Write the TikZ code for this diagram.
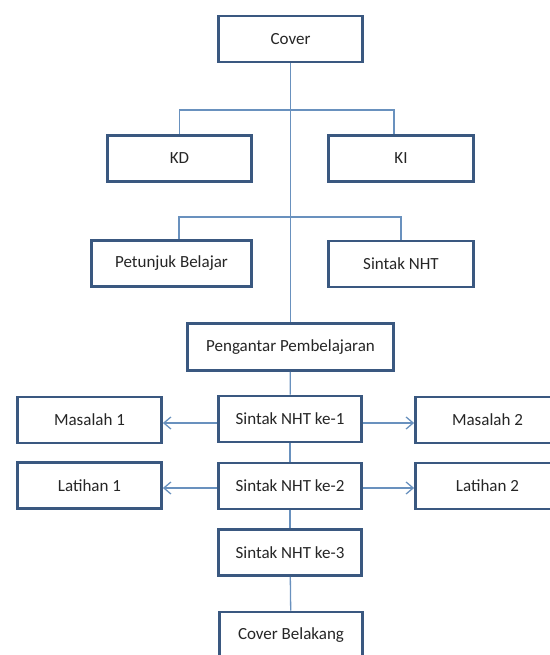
\documentclass[tikz,border=0pt]{standalone}
\usepackage{fontspec}
\setmainfont{Carlito}
\usetikzlibrary{arrows.meta}
\definecolor{boxblue}{RGB}{58,88,128}
\definecolor{linkblue}{RGB}{105,145,190}
\tikzset{
	bagian/.style={draw=boxblue, line width=2.8pt, fill=white, minimum width=#1, minimum height=46pt, inner sep=0pt, text=black!85, font=\fontsize{17}{20}\selectfont},
	bagian/.default=144pt,
	garis/.style={draw=linkblue, line width=1.3pt},
	panah/.style={garis, -{Straight Barb[length=7pt,width=12pt,line width=1.3pt]}}
}

\begin{document}
\begin{tikzpicture}[x=1pt, y=-1pt]
			%%%%% START %%%%%
			
			\useasboundingbox (0, 0) rectangle (549, 655);
			
			\node[bagian] (cover) at (290.5, 39) {Cover};
			
			\node[bagian] (kd) at (179.5, 158.5) {KD};
			\node[bagian=145pt] (ki) at (401, 158.5) {KI};
			
			\node[bagian=160pt] (petunjuk) at (171.5, 263.5) {Petunjuk Belajar};
			\node[bagian=145pt] (sintak) at (401, 264) {Sintak NHT};
			
			\node[bagian=206pt, minimum height=47pt] (pengantar) at (290.5, 347) {Pengantar Pembelajaran};
			
			\node[bagian=143pt] (ke1) at (290, 419) {Sintak NHT ke-1};
			\node[bagian] (masalah1) at (89.5, 420) {Masalah 1};
			\node[bagian] (masalah2) at (487.5, 420) {Masalah 2};
			
			\node[bagian=143pt] (ke2) at (290, 486) {Sintak NHT ke-2};
			\node[bagian] (latihan1) at (89.5, 485.5) {Latihan 1};
			\node[bagian] (latihan2) at (487.5, 486) {Latihan 2};
			
			\node[bagian=143pt] (ke3) at (290, 552.5) {Sintak NHT ke-3};
			\node[bagian=143pt] (belakang) at (291, 635) {Cover Belakang};
			
			% percabangan
			\coordinate (cabang1) at (290.5, 110);
			\coordinate (cabang2) at (290.5, 217);
			
			\draw[garis] (cover) -- (pengantar);
			\draw[garis] (kd.north) |- (cabang1) -| ([xshift=-7pt]ki.north);
			\draw[garis] ([xshift=7.5pt]petunjuk.north) |- (cabang2) -| (sintak.north);
			
			\draw[garis] (pengantar) -- (ke1);
			\draw[garis] (ke1) -- (ke2);
			\draw[garis] (ke2) -- (ke3);
			\draw[garis] (ke3) -- (belakang);
			
			% panah ke samping
			\draw[panah] ([yshift=-4pt]ke1.west) -- ([yshift=-4pt]ke1.west -| masalah1.east);
			\draw[panah] ([yshift=-4pt]ke1.east) -- ([yshift=-4pt]ke1.east -| masalah2.west);
			\draw[panah] ([yshift=-2pt]ke2.west) -- ([yshift=-2pt]ke2.west -| latihan1.east);
			\draw[panah] ([yshift=-2pt]ke2.east) -- ([yshift=-2pt]ke2.east -| latihan2.west);
			
			%%%%% END %%%%%
\end{tikzpicture}
\end{document}
